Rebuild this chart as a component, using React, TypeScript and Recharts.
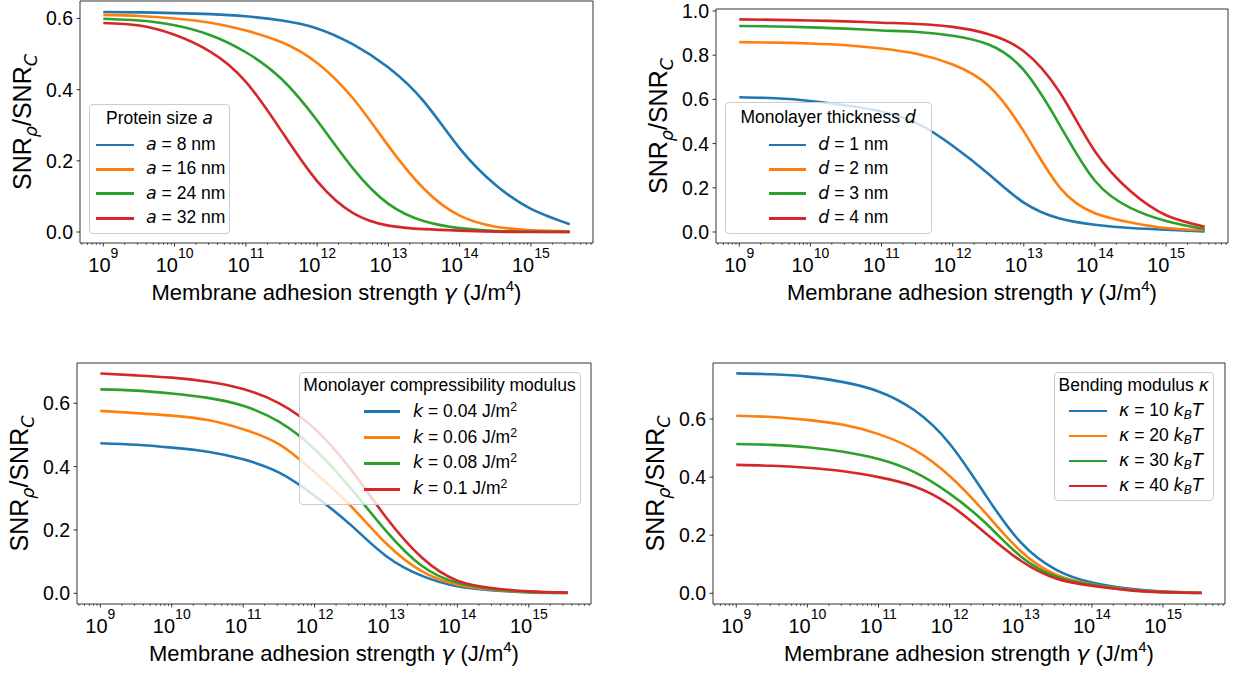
import React from "react";
import { LineChart, Line, XAxis, YAxis, Legend } from "recharts";

const FONT = '"Liberation Sans", Arial, Helvetica, sans-serif';
const MATH = '"DejaVu Sans", sans-serif';
const COLORS = ["#1f77b4", "#ff7f0e", "#2ca02c", "#d62728"];
const AXIS = { stroke: "#000", strokeWidth: 0.8 };

// adhesion strength gamma (J/m^4), shared by all four panels
const GAMMA = [1e9, 3.2e9, 1e10, 3.2e10, 1e11, 3.2e11, 1e12, 3.2e12, 1e13, 3.2e13, 1e14, 3.2e14, 1e15, 3.5e15];

// panel 1: protein size a
const A8 = [0.618, 0.617, 0.615, 0.612, 0.606, 0.594, 0.572, 0.527, 0.462, 0.365, 0.235, 0.132, 0.065, 0.022];
const A16 = [0.61, 0.607, 0.6, 0.588, 0.566, 0.533, 0.475, 0.375, 0.242, 0.12, 0.046, 0.015, 0.005, 0.002];
const A24 = [0.599, 0.594, 0.581, 0.553, 0.505, 0.429, 0.313, 0.178, 0.079, 0.03, 0.011, 0.003, 0.001, 0.0];
const A32 = [0.587, 0.58, 0.554, 0.506, 0.422, 0.282, 0.143, 0.053, 0.018, 0.008, 0.004, 0.001, 0.0, 0.0];

// panel 2: monolayer thickness d
const D1 = [0.61, 0.605, 0.593, 0.572, 0.545, 0.49, 0.39, 0.262, 0.133, 0.061, 0.033, 0.018, 0.01, 0.003];
const D2 = [0.859, 0.857, 0.853, 0.845, 0.83, 0.805, 0.758, 0.662, 0.455, 0.202, 0.085, 0.043, 0.018, 0.008];
const D3 = [0.932, 0.93, 0.926, 0.92, 0.912, 0.905, 0.888, 0.848, 0.732, 0.484, 0.232, 0.108, 0.05, 0.013];
const D4 = [0.962, 0.96, 0.957, 0.953, 0.947, 0.941, 0.928, 0.895, 0.818, 0.632, 0.365, 0.183, 0.076, 0.024];

// panel 3: monolayer compressibility modulus k
const K04 = [0.474, 0.469, 0.46, 0.447, 0.423, 0.381, 0.308, 0.216, 0.118, 0.055, 0.022, 0.009, 0.003, 0.001];
const K06 = [0.576, 0.569, 0.561, 0.547, 0.518, 0.47, 0.382, 0.276, 0.158, 0.069, 0.027, 0.011, 0.004, 0.001];
const K08 = [0.644, 0.64, 0.631, 0.617, 0.592, 0.541, 0.455, 0.332, 0.197, 0.086, 0.033, 0.013, 0.005, 0.002];
const K10 = [0.694, 0.688, 0.681, 0.668, 0.645, 0.6, 0.52, 0.392, 0.24, 0.112, 0.04, 0.016, 0.006, 0.002];

// panel 4: bending modulus kappa
const KAP10 = [0.757, 0.754, 0.746, 0.727, 0.695, 0.63, 0.515, 0.338, 0.175, 0.08, 0.037, 0.016, 0.006, 0.002];
const KAP20 = [0.611, 0.607, 0.597, 0.58, 0.548, 0.494, 0.404, 0.276, 0.145, 0.063, 0.031, 0.013, 0.005, 0.002];
const KAP30 = [0.514, 0.511, 0.503, 0.487, 0.462, 0.417, 0.343, 0.242, 0.127, 0.057, 0.029, 0.012, 0.004, 0.001];
const KAP40 = [0.442, 0.439, 0.432, 0.42, 0.4, 0.368, 0.305, 0.207, 0.112, 0.05, 0.026, 0.011, 0.004, 0.001];

const MAJOR_TICKS = [1e9, 1e10, 1e11, 1e12, 1e13, 1e14, 1e15];
const X_DOMAIN: [number, number] = [4.71e8, 7.43e15];
const Y_TICKS_SHORT = [0, 0.2, 0.4, 0.6];
const Y_TICKS_LONG = [0, 0.2, 0.4, 0.6, 0.8, 1.0];

const MINOR_TICKS: number[] = [];
for (let e = 8; e <= 15; e++) {
  for (let k = 2; k <= 9; k++) {
    const v = k * Math.pow(10, e);
    if (v > X_DOMAIN[0] && v < X_DOMAIN[1]) MINOR_TICKS.push(v);
  }
}
const X_TICKS = [...MAJOR_TICKS, ...MINOR_TICKS].sort((a, b) => a - b);

const Sup = ({ children }: any) => (
  <sup style={{ fontSize: "0.7em", lineHeight: 0, verticalAlign: "0.55em" }}>{children}</sup>
);
const Sub = ({ children }: any) => (
  <sub style={{ fontSize: "0.7em", lineHeight: 0, verticalAlign: "-0.25em" }}>{children}</sub>
);
const M = ({ children }: any) => (
  <span style={{ fontFamily: MATH, fontStyle: "italic" }}>{children}</span>
);

function XTick(props: any) {
  const { x, y, payload } = props;
  const v = payload.value;
  const e = Math.round(Math.log10(v));
  const major = Math.abs(v / Math.pow(10, e) - 1) < 1e-6;
  if (!major) {
    return <line x1={x} x2={x} y1={y} y2={y + 2} stroke="#000" strokeWidth={0.6} />;
  }
  return (
    <g>
      <line x1={x} x2={x} y1={y} y2={y + 3.5} stroke="#000" strokeWidth={0.8} />
      <text x={x} y={y + 28.7} textAnchor="middle" fontSize={20} fontFamily={FONT} fill="#000">
        10<tspan dy={-13.7} fontSize={14}>{e}</tspan>
      </text>
    </g>
  );
}

function YTick(props: any) {
  const { x, y, payload } = props;
  return (
    <g>
      <line x1={x - 3.5} x2={x} y1={y} y2={y} stroke="#000" strokeWidth={0.8} />
      <text x={x - 7} y={y} textAnchor="end" dominantBaseline="central" fontSize={19.5} fontFamily={FONT} fill="#000">
        {Number(payload.value).toFixed(1)}
      </text>
    </g>
  );
}

function YLabel({ ax, ay }: any) {
  return (
    <text x={ax} y={ay} transform={`rotate(-90 ${ax} ${ay})`} textAnchor="middle" fontSize={25} fontFamily={FONT} fill="#000">
      SNR
      <tspan dy={6} fontSize={17.5} fontFamily={MATH} fontStyle="italic">ρ</tspan>
      <tspan dy={-6}>/SNR</tspan>
      <tspan dy={6} fontSize={17.5} fontFamily={MATH} fontStyle="italic">C</tspan>
    </text>
  );
}

function XLabel({ ax, ay }: any) {
  return (
    <text x={ax} y={ay} textAnchor="middle" fontSize={22} fontFamily={FONT} fill="#000">
      {"Membrane adhesion strength "}
      <tspan fontFamily={MATH} fontStyle="italic">γ</tspan>
      {" (J/m"}
      <tspan dy={-9} fontSize={15}>4</tspan>
      <tspan dy={9}>)</tspan>
    </text>
  );
}

function LegendBox({ spec, payload }: any) {
  return (
    <div
      style={{
        position: "absolute",
        left: 0,
        top: 0,
        width: spec.width,
        height: spec.height,
        boxSizing: "border-box",
        border: "1px solid #cccccc",
        borderRadius: 4,
        background: "rgba(255,255,255,0.8)",
        fontFamily: FONT,
        fontSize: 17.5,
        color: "#000",
      }}
    >
      <div
        style={{
          position: "absolute",
          left: 0,
          width: "100%",
          top: spec.titleY,
          transform: "translateY(-50%)",
          textAlign: "center",
          whiteSpace: "nowrap",
          lineHeight: 1,
        }}
      >
        {spec.title}
      </div>
      {(payload || []).map((p: any, i: number) => (
        <React.Fragment key={i}>
          <div
            style={{
              position: "absolute",
              left: spec.handle[0],
              width: spec.handle[1] - spec.handle[0],
              top: spec.rows[i] - 1.3,
              height: 2.6,
              background: p.color,
            }}
          />
          <div
            style={{
              position: "absolute",
              left: spec.textX,
              top: spec.rows[i],
              transform: "translateY(-50%)",
              whiteSpace: "nowrap",
              lineHeight: 1,
            }}
          >
            {spec.labels[i]}
          </div>
        </React.Fragment>
      ))}
    </div>
  );
}

function Panel({ frame, box, series, yDomain, yTicks, legend }: any) {
  const rows = GAMMA.map((g, i) => ({
    x: g,
    s0: series[0][i],
    s1: series[1][i],
    s2: series[2][i],
    s3: series[3][i],
  }));
  // the top x axis and right y axis (1px each) only draw the frame
  const margin = { top: frame.t - box.y - 1, right: box.x + box.w - frame.r - 1, bottom: 0, left: 0 };
  return (
    <div style={{ position: "absolute", left: box.x, top: box.y, width: box.w, height: box.h }}>
      <LineChart width={box.w} height={box.h} data={rows} margin={margin}>
        <XAxis
          dataKey="x"
          type="number"
          scale="log"
          domain={X_DOMAIN}
          allowDataOverflow
          ticks={X_TICKS}
          interval={0}
          tick={(p: any) => <XTick {...p} />}
          tickLine={false}
          tickSize={0}
          tickMargin={0}
          height={box.y + box.h - frame.b}
          axisLine={AXIS}
          label={<XLabel ax={(frame.l + frame.r) / 2 - box.x} ay={frame.b + 56.5 - box.y} />}
        />
        <XAxis xAxisId="top" orientation="top" type="number" domain={[0, 1]} height={1} tick={false} tickLine={false} axisLine={AXIS} />
        <YAxis
          type="number"
          domain={yDomain}
          allowDataOverflow
          ticks={yTicks}
          interval={0}
          tick={(p: any) => <YTick {...p} />}
          tickLine={false}
          tickSize={0}
          tickMargin={0}
          width={frame.l - box.x}
          axisLine={AXIS}
          label={<YLabel ax={frame.l - 49 - box.x} ay={(frame.t + frame.b) / 2 - box.y} />}
        />
        <YAxis yAxisId="right" orientation="right" type="number" domain={[0, 1]} width={1} tick={false} tickLine={false} axisLine={AXIS} />
        <Legend
          layout="vertical"
          align="center"
          verticalAlign="middle"
          wrapperStyle={{ left: legend.left - box.x, top: legend.top - box.y, width: legend.width, height: legend.height }}
          content={(p: any) => <LegendBox spec={legend} payload={p.payload} />}
        />
        {[0, 1, 2, 3].map((i) => (
          <Line
            key={i}
            dataKey={`s${i}`}
            type="natural"
            stroke={COLORS[i]}
            strokeWidth={2.6}
            dot={false}
            activeDot={false}
            isAnimationActive={false}
          />
        ))}
      </LineChart>
    </div>
  );
}

const LEGEND_1 = {
  left: 89, top: 104, width: 141, height: 130,
  titleY: 14, rows: [40, 64.3, 88.7, 113.3], handle: [6, 43.7], textX: 56,
  title: <>Protein size <M>a</M></>,
  labels: [
    <><M>a</M> = 8 nm</>,
    <><M>a</M> = 16 nm</>,
    <><M>a</M> = 24 nm</>,
    <><M>a</M> = 32 nm</>,
  ],
};
const LEGEND_2 = {
  left: 724.75, top: 102, width: 206.75, height: 132,
  titleY: 15, rows: [42, 66.3, 90.7, 115.3], handle: [43.25, 79.75], textX: 92.5,
  title: <>Monolayer thickness <M>d</M></>,
  labels: [
    <><M>d</M> = 1 nm</>,
    <><M>d</M> = 2 nm</>,
    <><M>d</M> = 3 nm</>,
    <><M>d</M> = 4 nm</>,
  ],
};
const LEGEND_3 = {
  left: 298.5, top: 371.5, width: 282, height: 133.5,
  titleY: 13.5, rows: [39.2, 65.2, 90.8, 116.8], handle: [64, 100.5], textX: 113.5,
  title: <>Monolayer compressibility modulus</>,
  labels: [
    <><M>k</M> = 0.04 J/m<Sup>2</Sup></>,
    <><M>k</M> = 0.06 J/m<Sup>2</Sup></>,
    <><M>k</M> = 0.08 J/m<Sup>2</Sup></>,
    <><M>k</M> = 0.1 J/m<Sup>2</Sup></>,
  ],
};
const LEGEND_4 = {
  left: 1054, top: 371.7, width: 159.5, height: 129.3,
  titleY: 13.3, rows: [38.3, 63.3, 88.3, 113.3], handle: [14, 51.5], textX: 64,
  title: <>Bending modulus <M>κ</M></>,
  labels: [
    <><M>κ</M> = 10 <M>k</M><Sub><M>B</M></Sub><M>T</M></>,
    <><M>κ</M> = 20 <M>k</M><Sub><M>B</M></Sub><M>T</M></>,
    <><M>κ</M> = 30 <M>k</M><Sub><M>B</M></Sub><M>T</M></>,
    <><M>κ</M> = 40 <M>k</M><Sub><M>B</M></Sub><M>T</M></>,
  ],
};

export default function App() {
  return (
    <div
      style={{
        position: "absolute",
        left: 0,
        top: 0,
        width: 1242,
        height: 675,
        background: "#fff",
        fontFamily: FONT,
        overflow: "hidden",
      }}
    >
      <Panel
        frame={{ l: 80, t: 1, r: 593, b: 243 }}
        box={{ x: 0, y: 0, w: 621, h: 320 }}
        series={[A8, A16, A24, A32]}
        yDomain={[-0.0309, 0.649]}
        yTicks={Y_TICKS_SHORT}
        legend={LEGEND_1}
      />
      <Panel
        frame={{ l: 716, t: 9, r: 1228, b: 243 }}
        box={{ x: 621, y: 0, w: 621, h: 320 }}
        series={[D1, D2, D3, D4]}
        yDomain={[-0.0498, 1.009]}
        yTicks={Y_TICKS_LONG}
        legend={LEGEND_2}
      />
      <Panel
        frame={{ l: 77, t: 363, r: 591, b: 604 }}
        box={{ x: 0, y: 335, w: 621, h: 340 }}
        series={[K04, K06, K08, K10]}
        yDomain={[-0.0338, 0.7272]}
        yTicks={Y_TICKS_SHORT}
        legend={LEGEND_3}
      />
      <Panel
        frame={{ l: 713, t: 363, r: 1225, b: 604 }}
        box={{ x: 621, y: 335, w: 621, h: 340 }}
        series={[KAP10, KAP20, KAP30, KAP40]}
        yDomain={[-0.0368, 0.7928]}
        yTicks={Y_TICKS_SHORT}
        legend={LEGEND_4}
      />
    </div>
  );
}
